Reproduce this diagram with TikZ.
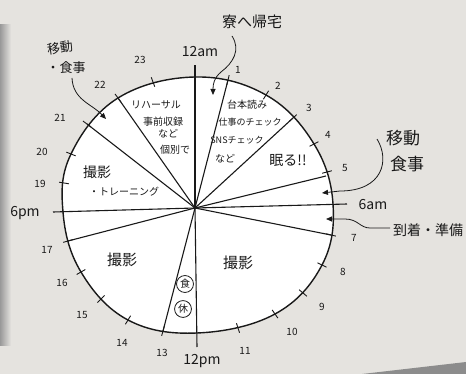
\documentclass[tikz,border=0pt]{standalone}
\usepackage{fontspec}
\setmainfont{Noto Sans CJK JP}
\usetikzlibrary{calc,arrows.meta}
\definecolor{paper}{RGB}{229,227,223}
\definecolor{ink}{RGB}{25,25,25}
\begin{document}
\begin{tikzpicture}[x=1pt,y=-1pt,
  seg/.style={ink,line width=1.1pt},
  rim/.style={ink,line width=1.4pt},
  tickmark/.style={ink,line width=0.9pt},
  arr/.style={ink,line width=0.8pt,-{Triangle[length=6pt,width=5pt]}},
  hr/.style={ink,inner sep=0pt,font=\fontsize{10}{10}\selectfont},
  big/.style={ink,inner sep=0pt,font=\fontsize{14}{14}\selectfont},
  jp/.style={ink,inner sep=0pt,font=\fontsize{10}{10}\selectfont},
  jpbig/.style={ink,inner sep=0pt,font=\fontsize{15}{15}\selectfont},
  circ/.style={ink,draw,circle,line width=0.8pt,inner sep=1.2pt,font=\fontsize{10}{10}\selectfont}]
\useasboundingbox (0,0) rectangle (466,374);
\fill[paper] (0,0) rectangle (466,374);
\shade[left color=black!40,right color=paper] (0,25) rectangle (11,345);
\fill[black!45] (362,374) -- (466,362) -- (466,374) -- cycle;

% rim points
\coordinate (ctr) at (198,205);
\coordinate (hub) at (195,208);
\coordinate (h0) at (195,77);
\coordinate (h1) at (228,80);
\coordinate (h2) at (266,95);
\coordinate (h3) at (293,118);
\coordinate (h4) at (314,144);
\coordinate (h5) at (327,172);
\coordinate (h6) at (333,204);
\coordinate (h7) at (331,235);
\coordinate (h8) at (322,265);
\coordinate (h9) at (303,293);
\coordinate (h10) at (275,314);
\coordinate (h11) at (238,328);
\coordinate (h12) at (197,333);
\coordinate (h13) at (163,331);
\coordinate (h14) at (128,320);
\coordinate (h15) at (101,299);
\coordinate (h16) at (81,272);
\coordinate (h17) at (68,241);
\coordinate (h18) at (63,212);
\coordinate (h19) at (64,183);
\coordinate (h20) at (71,154);
\coordinate (h21) at (87,124);
\coordinate (h22) at (118,98);
\coordinate (h23) at (153,82);
\coordinate (s5) at (326,176);

\draw[rim,fill=white] plot[smooth cycle,tension=0.65] coordinates {(h0) (h2) (h4) (h6) (h8) (h10) (h12) (h14) (h16) (h18) (h20) (h22)};

% ticks
\foreach \i in {1,2,3,4,5,7,8,9,10,11,13,14,15,16,17,19,20,21,22,23}
  \draw[tickmark] ($(h\i)!5pt!(ctr)$) -- ($(h\i)!-5pt!(ctr)$);

% extended main lines
\coordinate (e0) at (195,65);
\coordinate (e6) at (347,204);
\coordinate (e12) at (197,347);
\coordinate (e18) at (53,212);
\foreach \e in {e0,e6,e12,e18} \draw[seg] (hub) -- (\e);
% segment lines
\foreach \p in {h1,h3,s5,h7,h13,h17,h21,h22} \draw[seg] (hub) -- (\p);

% hour labels
\node[hr] (l1) at (238,70) {1};
\node[hr] (l2) at (278,86) {2};
\node[hr] (l3) at (309,108) {3};
\node[hr] (l4) at (328,135) {4};
\node[hr] (l5) at (345,168) {5};
\node[hr] (l7) at (354,238) {7};
\node[hr] (l8) at (343,272) {8};
\node[hr] (l9) at (322,307) {9};
\node[hr] (l10) at (292,332) {10};
\node[hr] (l11) at (245,351) {11};
\node[hr] (l13) at (162,353) {13};
\node[hr] (l14) at (122,343) {14};
\node[hr] (l15) at (82,315) {15};
\node[hr] (l16) at (62,283) {16};
\node[hr] (l17) at (47,250) {17};
\node[hr] (l19) at (40,184) {19};
\node[hr] (l20) at (42,152) {20};
\node[hr] (l21) at (60,118) {21};
\node[hr] (l22) at (100,85) {22};
\node[hr] (l23) at (140,60) {23};
\node[big] (l12am) at (200,52) {12am};
\node[big] (l6pm) at (25,213) {6pm};
\node[big] (l6am) at (373,205) {6am};
\node[big] (l12pm) at (202,361) {12pm};

% segment texts
\node[jp] (t1a) at (156,105) {リハーサル};
\node[jp] (t1b) at (163,122) {事前収録};
\node[jp] (t1c) at (168,134) {など};
\node[jp] (t1d) at (175,150) {個別で};
\node[jp] (t2a) at (247,105) {台本読み};
\node[jp,font=\fontsize{9}{9}\selectfont] (t2b) at (250,122) {仕事のチェック};
\node[jp,font=\fontsize{9}{9}\selectfont] (t2c) at (237,140) {SNSチェック};
\node[jp] (t2d) at (225,159) {など};
\node[jp,font=\fontsize{14}{14}\selectfont] (t3) at (288,160) {眠る!!};
\node[jp,font=\fontsize{14}{14}\selectfont] (t4a) at (97,172) {撮影};
\node[jp] (t4b) at (124,192) {・トレーニング};
\node[jpbig] (t5) at (122,260) {撮影};
\node[jpbig] (t6) at (238,263) {撮影};
\node[circ] (t7) at (185,284) {食};
\node[circ] (t8) at (183,309) {休};

% annotations
\node[jpbig] (a1) at (252,22) {寮へ帰宅};
\node[jp,font=\fontsize{13}{13}\selectfont,rotate=8] (a2a) at (60,48) {移動};
\node[jp,font=\fontsize{13}{13}\selectfont] (a2b) at (66,68) {・食事};
\node[jp,font=\fontsize{17}{17}\selectfont] (a3a) at (403,138) {移動};
\node[jp,font=\fontsize{17}{17}\selectfont] (a3b) at (407,164) {食事};
\node[jp,font=\fontsize{14}{14}\selectfont] (a4) at (428,230) {到着・準備};

\coordinate (c1s) at (232,36);
\coordinate (c1e) at (213,95);
\draw[arr] (c1s) .. controls (241,50) and (233,63) .. (221,72) .. controls (214,78) and (213,84) .. (c1e);
\coordinate (c2s) at (72,78);
\coordinate (c2e) at (106,119);
\draw[arr] (c2s) .. controls (73,100) and (92,104) .. (c2e);
\coordinate (c3s) at (377,139);
\coordinate (c3e) at (322,193);
\draw[arr] (c3s) .. controls (390,160) and (383,191) .. (340,191) -- (c3e);
\coordinate (c4s) at (390,228);
\coordinate (c4e) at (326,219);
\draw[arr] (c4s) -- (370,228) .. controls (360,228) and (358,219) .. (345,219) -- (c4e);
\end{tikzpicture}
\end{document}
